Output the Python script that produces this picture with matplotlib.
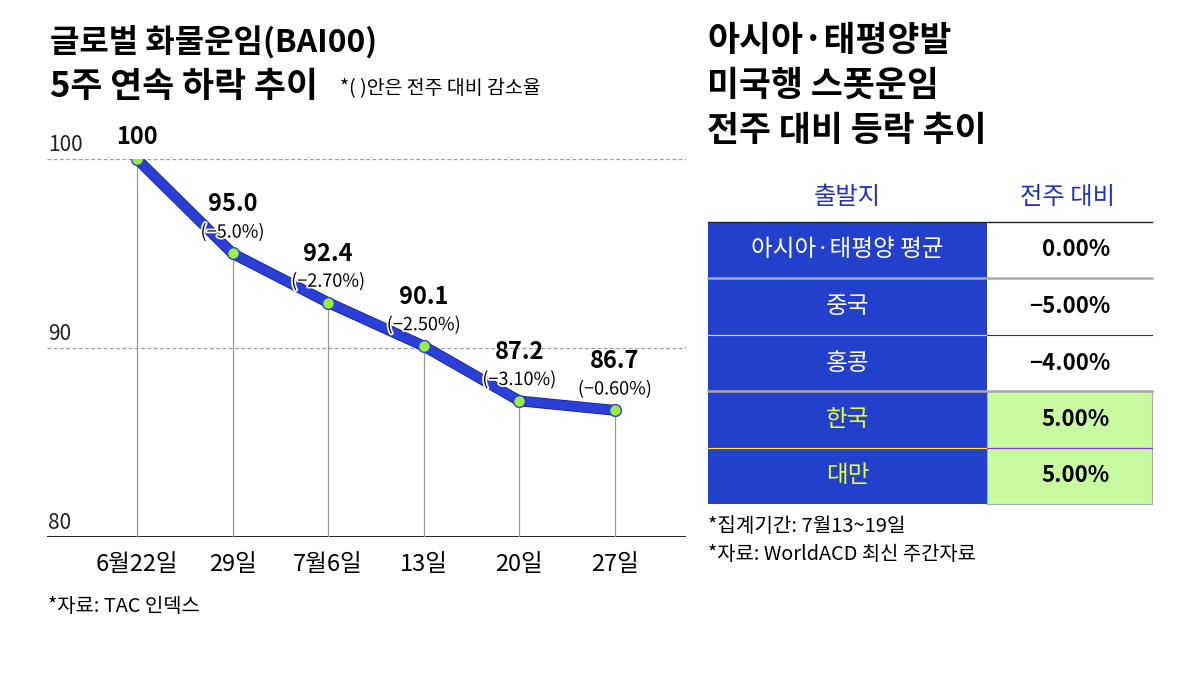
import matplotlib
matplotlib.use("Agg")
import matplotlib.pyplot as plt
import matplotlib.patheffects as pe
from matplotlib.patches import Rectangle

plt.rcParams['font.family'] = ['Noto Sans CJK KR', 'DejaVu Sans']

# ---- data ----
dates = ["6월22일", "29일", "7월6일", "13일", "20일", "27일"]
index_values = [100, 95.0, 92.4, 90.1, 87.2, 86.7]
value_labels = ["100", "95.0", "92.4", "90.1", "87.2", "86.7"]
pct_labels = ["", "(−5.0%)", "(−2.70%)", "(−2.50%)", "(−3.10%)", "(−0.60%)"]
y_ticks = [100, 90, 80]

origins = ["아시아·태평양 평균", "중국", "홍콩", "한국", "대만"]
changes = ["0.00%", "−5.00%", "−4.00%", "5.00%", "5.00%"]
highlight = [False, False, False, True, True]

W, H = 1200, 678
fig = plt.figure(figsize=(W / 100, H / 100), dpi=100)
fig.patch.set_facecolor("white")

def fx(x):
    return x / W

def fy(y):
    return 1 - y / H

# ---- line chart ----
left, right, top, bottom = 47, 686, 159, 537
ax = fig.add_axes([fx(left), fy(bottom), (right - left) / W, (bottom - top) / H])
xs = list(range(len(dates)))
step = (615 - 137) / 5
ax.set_xlim((left - 137) / step, (right - 137) / step)
ax.set_ylim(80, 100)
for s in ax.spines.values():
    s.set_visible(False)
ax.set_xticks([])
ax.set_yticks([])
ax.patch.set_alpha(0)

for t in y_ticks:
    if t == 80:
        ax.axhline(t, color="black", lw=1.2, zorder=1)
    else:
        ax.axhline(t, color="#999999", lw=0.9, ls=(0, (3, 2)), zorder=1)
    ax.annotate(str(t), xy=(0, t), xycoords=("axes fraction", "data"),
                xytext=(1, 3), textcoords="offset pixels",
                ha="left", va="bottom", fontsize=15, color="#222222")

for x, v in zip(xs, index_values):
    ax.plot([x, x], [80, v], color="#999999", lw=0.9, zorder=1)

ax.plot(xs, index_values, color="#2A3FD6", lw=6.5, solid_capstyle="butt",
        solid_joinstyle="round", zorder=3,
        path_effects=[pe.Stroke(linewidth=7.8, foreground="#1A2699"), pe.Normal()])
ax.plot(xs, index_values, ls="none", marker="o", ms=8.5, mfc="#99EE44",
        mec="#2A3FD6", mew=1.0, zorder=4)

for x, v, vl, pl in zip(xs, index_values, value_labels, pct_labels):
    if pl:
        ax.annotate(vl, xy=(x, v), xytext=(0, 49), textcoords="offset pixels",
                    ha="center", va="center", fontsize=17, fontweight="bold",
                    color="black", zorder=6)
        ax.annotate(pl, xy=(x, v), xytext=(0, 21), textcoords="offset pixels",
                    ha="center", va="center", fontsize=13, color="black", zorder=6,
                    path_effects=[pe.withStroke(linewidth=2.5, foreground="white")])
    else:
        ax.annotate(vl, xy=(x, v), xytext=(0, 22), textcoords="offset pixels",
                    ha="center", va="center", fontsize=17, fontweight="bold",
                    color="black", zorder=6)

for x, d in zip(xs, dates):
    ax.annotate(d, xy=(x, 80), xytext=(0, -28), textcoords="offset pixels",
                ha="center", va="center", fontsize=17, color="black")

# ---- left titles ----
fig.text(fx(50), fy(42), "글로벌 화물운임(BAI00)", fontsize=23, fontweight="heavy",
         ha="left", va="center")
fig.text(fx(50), fy(87), "5주 연속 하락 추이", fontsize=25, fontweight="heavy",
         ha="left", va="center")
fig.text(fx(340), fy(89), "*( )안은 전주 대비 감소율", fontsize=14,
         ha="left", va="center")
fig.text(fx(48), fy(607), "*자료: TAC 인덱스", fontsize=14.3, ha="left", va="center")

# ---- right titles ----
for i, line in enumerate(["아시아·태평양발", "미국행 스폿운임", "전주 대비 등락 추이"]):
    fig.text(fx(707), fy(40 + 45 * i), line, fontsize=25, fontweight="heavy",
             ha="left", va="center")

# ---- table ----
tx0, tx1, tx2 = 708, 987, 1152
row_edges = [222, 278, 335, 391, 448, 504]
blue = "#2340CC"
green = "#C8FAA0"
yellow_text = "#E6FF33"

fig.text(fx((tx0 + tx1) / 2), fy(197), "출발지", fontsize=17.5, color="#2233BB",
         ha="center", va="center")
fig.text(fx(1068), fy(197), "전주 대비", fontsize=17.5, color="#2233BB",
         ha="center", va="center")

for i, (o, c, h) in enumerate(zip(origins, changes, highlight)):
    y0, y1 = row_edges[i], row_edges[i + 1]
    fig.patches.append(Rectangle((fx(tx0), fy(y1)), (tx1 - tx0) / W, (y1 - y0) / H,
                                 transform=fig.transFigure, facecolor=blue,
                                 edgecolor="none", zorder=1))
    if h:
        fig.patches.append(Rectangle((fx(tx1), fy(y1)), (tx2 - tx1) / W, (y1 - y0) / H,
                                     transform=fig.transFigure, facecolor=green,
                                     edgecolor="#AAAAAA", lw=0.8, zorder=1))
    fig.text(fx((tx0 + tx1) / 2), fy((y0 + y1) / 2), o, fontsize=17,
             color=yellow_text if h else "white", ha="center", va="center", zorder=3)
    fig.text(fx(1110), fy((y0 + y1) / 2), c, fontsize=16, fontweight="bold",
             color="black", ha="right", va="center", zorder=3)

def hline(y, x0, x1, color, lw):
    fig.add_artist(plt.Line2D([fx(x0), fx(x1)], [fy(y), fy(y)], color=color, lw=lw,
                              transform=fig.transFigure, zorder=2))

hline(222, tx0, tx2, "#222222", 1.0)
hline(278, tx0, tx2, "#AAAAAA", 1.8)
hline(335, tx0, tx1, "#DDE4FF", 0.8)
hline(335, tx1, tx2, "#333333", 0.8)
hline(391, tx0, tx2, "#AAAAAA", 1.8)
hline(448, tx0, tx1, "#FFEE33", 0.8)
hline(448, tx1, tx2, "#8833CC", 0.8)

fig.text(fx(708), fy(527), "*집계기간: 7월13~19일", fontsize=14.5, ha="left", va="center")
fig.text(fx(708), fy(555), "*자료: WorldACD 최신 주간자료", fontsize=14.3, ha="left", va="center")

fig.savefig("out.png", dpi=100, facecolor="white")
